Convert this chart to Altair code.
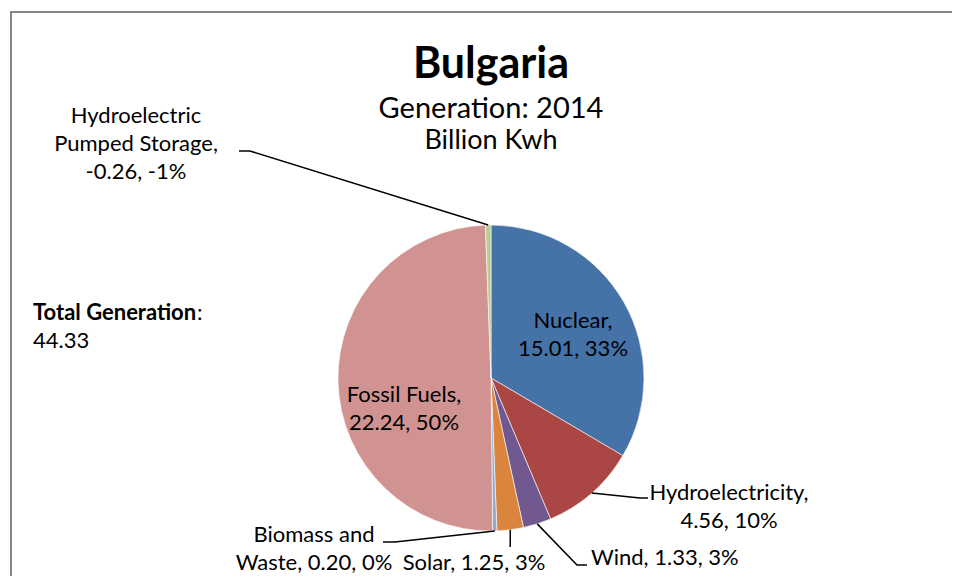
import math
import altair as alt
import pandas as pd

# ---- data ----
sources = ["Nuclear", "Hydroelectricity", "Wind", "Solar", "Biomass and Waste",
           "Fossil Fuels", "Hydroelectric Pumped Storage"]
values = [15.01, 4.56, 1.33, 1.25, 0.20, 22.24, -0.26]
colors = ["#4572A7", "#AA4643", "#71588F", "#DB843D", "#93A9CF", "#D19392", "#B9CD96"]
title = "Bulgaria"
subtitle = ["Generation: 2014", "Billion Kwh"]

FONT = "Lato"
OFF = 8  # page margin
CX, CY, R = 491 - OFF, 378 - OFF, 153
LAB = 22
LH = 28

absvals = [abs(v) for v in values]
abs_total = sum(absvals)
net_total = sum(values)
pcts = [round(v / abs_total * 100) for v in values]

pie = pd.DataFrame({"source": sources, "value": values, "size": absvals,
                    "order": list(range(len(sources)))})

# mid angle of each slice (clockwise from 12 o'clock)
mids = {}
cum = 0.0
for s, a in zip(sources, absvals):
    mids[s] = (cum + a / 2) / abs_total * 2 * math.pi
    cum += a


def edge(s):
    t = mids[s]
    return CX + R * math.sin(t), CY - R * math.cos(t)


def nums(i):
    return f"{values[i]:.2f}, {pcts[i]}%"

# label layout: (lines, x, first baseline, align) in page coords
layout = [
    (["Nuclear,", nums(0)], 573, 328, "center"),
    (["Hydroelectricity,", nums(1)], 729, 500, "center"),
    ([f"Wind, {nums(2)}"], 591, 565, "left"),
    ([f"Solar, {nums(3)}"], 474, 570, "center"),
    (["Biomass  and", f"Waste, {nums(4)}"], 314, 542, "center"),
    (["Fossil Fuels,", nums(5)], 404, 402, "center"),
    (["Hydroelectric", "Pumped Storage,", nums(6)], 136, 123, "center"),
]
rows = []
for lines, x, y, al in layout:
    for k, ln in enumerate(lines):
        rows.append({"t": ln, "px": x - OFF, "py": y - OFF + k * LH, "al": al})
labels = pd.DataFrame(rows)

# leader lines (elbow points in page coords)
leaders = {
    "Hydroelectric Pumped Storage": [(250, 151), (239, 151)],
    "Hydroelectricity": [(640, 498), (648, 498)],
    "Wind": [(577, 565), (587, 565)],
    "Biomass and Waste": [(395, 542), (383, 542)],
}
lrows = []
for s, pts in leaders.items():
    sx, sy = edge(s)
    lrows.append({"id": s, "seq": 0, "px": sx, "py": sy})
    for j, (x, y) in enumerate(pts):
        lrows.append({"id": s, "seq": j + 1, "px": x - OFF, "py": y - OFF})
sx, sy = edge("Solar")
lrows.append({"id": "Solar", "seq": 0, "px": sx, "py": sy})
lrows.append({"id": "Solar", "seq": 1, "px": sx, "py": 547 - OFF})
lines_df = pd.DataFrame(lrows)

X = lambda f: alt.X(f, scale=None, axis=None)
Y = lambda f: alt.Y(f, scale=None, axis=None)

one = pd.DataFrame({"a": [0]})
border_top = alt.Chart(one).mark_rule(color="#868686", strokeWidth=2).encode(
    x=alt.value(2), x2=alt.value(1200), y=alt.value(4))
border_left = alt.Chart(one).mark_rule(color="#868686", strokeWidth=2).encode(
    x=alt.value(3), y=alt.value(3), y2=alt.value(1200))

arcs = alt.Chart(pie).mark_arc(radius=R, stroke="white", strokeWidth=0.6).encode(
    theta=alt.Theta("size:Q", stack=True),
    color=alt.Color("source:N", scale=alt.Scale(domain=sources, range=colors), legend=None),
    order=alt.Order("order:Q"),
    x=alt.value(CX), y=alt.value(CY),
)

leader_lines = alt.Chart(lines_df).mark_line(color="black", strokeWidth=1.5).encode(
    x=X("px:Q"), y=Y("py:Q"), detail="id:N", order="seq:Q"
)

def text_layer(df, align, size=LAB, weight="normal"):
    return alt.Chart(df).mark_text(
        font=FONT, fontSize=size, fontWeight=weight, align=align,
        baseline="alphabetic", color="black"
    ).encode(x=X("px:Q"), y=Y("py:Q"), text="t:N")

lab_c = text_layer(labels[labels.al == "center"], "center")
lab_l = text_layer(labels[labels.al == "left"], "left")

titles = pd.DataFrame({
    "t": [title] + subtitle,
    "px": [491 - OFF] * 3,
    "py": [78 - OFF, 118 - OFF, 149 - OFF],
})
t1 = text_layer(titles.iloc[[0]], "center", 43, "bold")
t2 = text_layer(titles.iloc[[1]], "center", 29)
t3 = text_layer(titles.iloc[[2]], "center", 27)

tot = pd.DataFrame({"t": ["Total Generation", ":", f"{net_total:.2f}"],
                    "px": [33 - OFF, 197 - OFF, 33 - OFF],
                    "py": [320 - OFF, 320 - OFF, 348 - OFF]})
tot_b = text_layer(tot.iloc[[0]], "left", LAB, "bold")
tot_r = text_layer(tot.iloc[[1, 2]], "left")

chart = alt.layer(border_top, border_left, arcs, leader_lines, lab_c, lab_l,
                  t1, t2, t3, tot_b, tot_r).properties(
    width=944, height=568, autosize=alt.AutoSizeParams(type="none"), padding=0
).configure_view(stroke=None).resolve_scale(x="independent", y="independent")

chart.save("out.html", embed_options={"renderer": "svg", "actions": False})
